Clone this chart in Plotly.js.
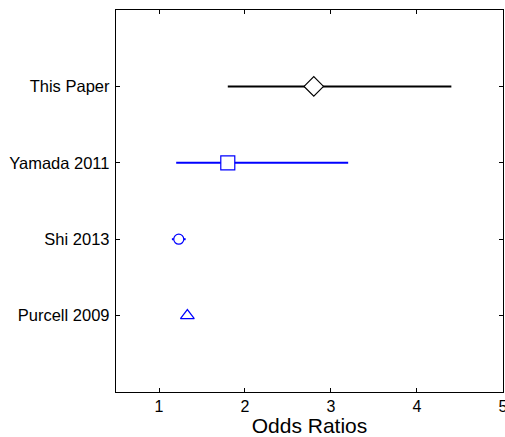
<!DOCTYPE html>
<html>
<head>
<meta charset="utf-8">
<script src="https://cdn.plot.ly/plotly-3.0.1.min.js"></script>
<style>html,body{margin:0;padding:0;background:#fff;}#chart{width:505px;height:437px;}</style>
</head>
<body>
<div id="chart"></div>
<script>
const studies = ["This Paper", "Yamada 2011", "Shi 2013", "Purcell 2009"];
const studyPos = [1, 2, 3, 4];
const oddsRatios = [2.8, 1.8, 1.23, 1.33];
const ciLow = [1.8, 1.2, 1.15, 1.33];
const ciHigh = [4.4, 3.2, 1.31, 1.33];
const xTicks = [1, 2, 3, 4, 5];

const colors = ["#000000", "#0000ff", "#0000ff", "#0000ff"];
const symbols = ["diamond", "square", "circle", "triangle-up"];
const sizes = [15, 14, 10, 12];

const traces = studies.map((s, i) => ({
  type: "scatter",
  mode: "markers",
  x: [oddsRatios[i]],
  y: [studyPos[i]],
  name: s,
  marker: {symbol: symbols[i], size: sizes[i], color: "#ffffff", line: {width: 1.2, color: colors[i]}},
  error_x: {
    type: "data", symmetric: false,
    array: [ciHigh[i] - oddsRatios[i]],
    arrayminus: [oddsRatios[i] - ciLow[i]],
    color: colors[i], thickness: 2, width: 0, visible: ciHigh[i] > ciLow[i]
  },
  hoverinfo: "x+name"
}));

const layout = {
  width: 505, height: 437,
  margin: {l: 116, r: 2, t: 10, b: 45},
  paper_bgcolor: "#fff", plot_bgcolor: "#fff",
  showlegend: false,
  font: {family: "Liberation Sans, Arial, sans-serif", size: 16, color: "#000"},
  xaxis: {
    range: [0.5, 5.0005], tickvals: xTicks, ticktext: xTicks.map(String),
    ticks: "inside", ticklen: 4, tickcolor: "#000", tickwidth: 1,
    showline: true, linecolor: "#000", linewidth: 1.2, mirror: "ticks",
    showgrid: false, zeroline: false, ticklabeloverflow: "allow",
    title: {text: "Odds Ratios", font: {size: 21}, standoff: 2}
  },
  yaxis: {
    range: [5, 0], tickvals: studyPos, ticktext: studies, tickfont: {size: 16.5},
    ticks: "inside", ticklen: 4, tickcolor: "#000", tickwidth: 1,
    showline: true, linecolor: "#000", linewidth: 1.2, mirror: "ticks",
    showgrid: false, zeroline: false, ticklabelstandoff: 2
  }
};

Plotly.newPlot("chart", traces, layout, {displayModeBar: false, staticPlot: true});
</script>
</body>
</html>
